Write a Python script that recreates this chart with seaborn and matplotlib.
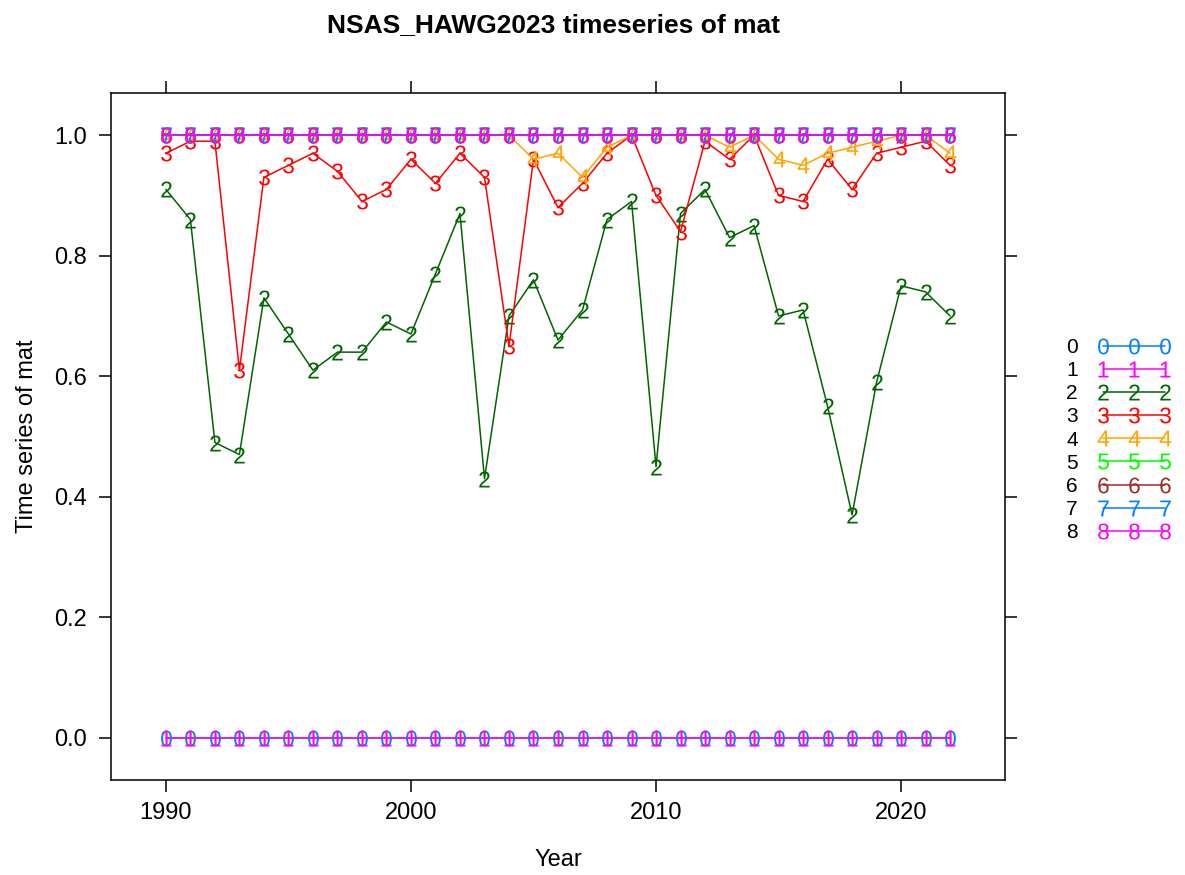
import matplotlib
matplotlib.use("Agg")
import matplotlib.pyplot as plt
from matplotlib.lines import Line2D
import numpy as np
import pandas as pd
import seaborn as sns

# Maturity-at-age time series, NSAS herring (HAWG 2023)
years = list(range(1990, 2023))
ages = ["0", "1", "2", "3", "4", "5", "6", "7", "8"]

mat_age0 = [0.0, 0.0, 0.0, 0.0, 0.0, 0.0, 0.0, 0.0, 0.0, 0.0, 0.0,
            0.0, 0.0, 0.0, 0.0, 0.0, 0.0, 0.0, 0.0, 0.0, 0.0, 0.0,
            0.0, 0.0, 0.0, 0.0, 0.0, 0.0, 0.0, 0.0, 0.0, 0.0, 0.0]
mat_age1 = [0.0, 0.0, 0.0, 0.0, 0.0, 0.0, 0.0, 0.0, 0.0, 0.0, 0.0,
            0.0, 0.0, 0.0, 0.0, 0.0, 0.0, 0.0, 0.0, 0.0, 0.0, 0.0,
            0.0, 0.0, 0.0, 0.0, 0.0, 0.0, 0.0, 0.0, 0.0, 0.0, 0.0]
mat_age2 = [0.91, 0.86, 0.49, 0.47, 0.73, 0.67, 0.61, 0.64, 0.64, 0.69, 0.67,
            0.77, 0.87, 0.43, 0.70, 0.76, 0.66, 0.71, 0.86, 0.89, 0.45,
            0.87, 0.91, 0.83, 0.85, 0.70, 0.71, 0.55, 0.37, 0.59, 0.75,
            0.74, 0.70]
mat_age3 = [0.97, 0.99, 0.99, 0.61, 0.93, 0.95, 0.97, 0.94, 0.89, 0.91, 0.96,
            0.92, 0.97, 0.93, 0.65, 0.96, 0.88, 0.92, 0.97, 1.00, 0.90,
            0.84, 0.99, 0.96, 1.00, 0.90, 0.89, 0.96, 0.91, 0.97, 0.98,
            0.99, 0.95]
mat_age4 = [1.0, 1.0, 1.0, 1.0, 1.0, 1.0, 1.0, 1.0, 1.0, 1.0, 1.0,
            1.0, 1.0, 1.0, 1.0, 0.96, 0.97, 0.93, 0.98, 1.0, 1.0,
            1.0, 1.0, 0.98, 1.0, 0.96, 0.95, 0.97, 0.98, 0.99, 1.0,
            1.0, 0.97]
mat_age5 = [1.0, 1.0, 1.0, 1.0, 1.0, 1.0, 1.0, 1.0, 1.0, 1.0, 1.0,
            1.0, 1.0, 1.0, 1.0, 1.0, 1.0, 1.0, 1.0, 1.0, 1.0, 1.0,
            1.0, 1.0, 1.0, 1.0, 1.0, 1.0, 1.0, 1.0, 1.0, 1.0, 1.0]
mat_age6 = [1.0, 1.0, 1.0, 1.0, 1.0, 1.0, 1.0, 1.0, 1.0, 1.0, 1.0,
            1.0, 1.0, 1.0, 1.0, 1.0, 1.0, 1.0, 1.0, 1.0, 1.0, 1.0,
            1.0, 1.0, 1.0, 1.0, 1.0, 1.0, 1.0, 1.0, 1.0, 1.0, 1.0]
mat_age7 = [1.0, 1.0, 1.0, 1.0, 1.0, 1.0, 1.0, 1.0, 1.0, 1.0, 1.0,
            1.0, 1.0, 1.0, 1.0, 1.0, 1.0, 1.0, 1.0, 1.0, 1.0, 1.0,
            1.0, 1.0, 1.0, 1.0, 1.0, 1.0, 1.0, 1.0, 1.0, 1.0, 1.0]
mat_age8 = [1.0, 1.0, 1.0, 1.0, 1.0, 1.0, 1.0, 1.0, 1.0, 1.0, 1.0,
            1.0, 1.0, 1.0, 1.0, 1.0, 1.0, 1.0, 1.0, 1.0, 1.0, 1.0,
            1.0, 1.0, 1.0, 1.0, 1.0, 1.0, 1.0, 1.0, 1.0, 1.0, 1.0]

series = [mat_age0, mat_age1, mat_age2, mat_age3, mat_age4,
          mat_age5, mat_age6, mat_age7, mat_age8]

x_ticks = [1990, 2000, 2010, 2020]
y_ticks = [0.0, 0.2, 0.4, 0.6, 0.8, 1.0]

# trellis-style superposition colours, recycled after seven
base_cols = ["#0080ff", "#ff00ff", "darkgreen", "#ff0000", "orange",
             "#00ff00", "brown"]
palette = {a: base_cols[i % len(base_cols)] for i, a in enumerate(ages)}
markers = {a: r"$\mathrm{%s}$" % a for a in ages}

df = pd.DataFrame({
    "Year": np.tile(years, len(ages)),
    "mat": np.concatenate(series),
    "age": np.repeat(ages, len(years)),
})

sns.set_style("white")
plt.rcParams["font.family"] = ["Liberation Sans", "DejaVu Sans"]
plt.rcParams["mathtext.fontset"] = "custom"
plt.rcParams["mathtext.rm"] = "Liberation Sans"
plt.rcParams["mathtext.it"] = "Liberation Sans"
plt.rcParams["text.color"] = "black"
plt.rcParams["axes.labelcolor"] = "black"
plt.rcParams["xtick.color"] = "black"
plt.rcParams["ytick.color"] = "black"

fig = plt.figure(figsize=(11.85, 8.75), dpi=100)
ax = fig.add_axes([111 / 1185, 1 - 780 / 875, (1005 - 111) / 1185, (780 - 93) / 875])

msize = 11.5
sns.lineplot(data=df, x="Year", y="mat", hue="age", style="age",
             hue_order=ages, style_order=ages, palette=palette,
             markers=markers, dashes=False, linewidth=1.1,
             markersize=msize, markeredgewidth=0, legend=False, ax=ax)

ax.set_xlim(1987.76, 2024.24)
ax.set_ylim(-0.07, 1.07)
ax.set_xticks(x_ticks)
ax.set_xticklabels([str(t) for t in x_ticks])
ax.set_yticks(y_ticks)
ax.set_yticklabels(["%.1f" % t for t in y_ticks])

for sp in ax.spines.values():
    sp.set_visible(True)
    sp.set_color("black")
    sp.set_linewidth(1.1)

ax.tick_params(axis="both", which="major", direction="out", length=8.6,
               width=1.1, color="black", labelsize=17, labelcolor="black",
               top=True, right=True, bottom=True, left=True,
               labeltop=False, labelright=False)
ax.tick_params(axis="x", pad=7)
ax.tick_params(axis="y", pad=8.5)

ax.set_xlabel("Year", fontsize=17, labelpad=18, color="black")
ax.set_ylabel("Time series of mat", fontsize=17, labelpad=12, color="black")
ax.set_title("NSAS_HAWG2023 timeseries of mat", fontsize=19,
             fontweight="bold", pad=44, color="black", x=0.495)

handles = [Line2D([], [], color=palette[a], linewidth=1.1,
                  marker=markers[a], markersize=msize, markeredgewidth=0)
           for a in ages]
fig.legend(handles, ages, loc="center left",
           bbox_to_anchor=(1066 / 1185, 1 - 440 / 875),
           frameon=False, numpoints=3, markerfirst=False, fontsize=15,
           handlelength=3.6, handletextpad=0.9, labelspacing=0.2,
           borderpad=0, borderaxespad=0, labelcolor="black")

fig.savefig("out.png", dpi=100)
